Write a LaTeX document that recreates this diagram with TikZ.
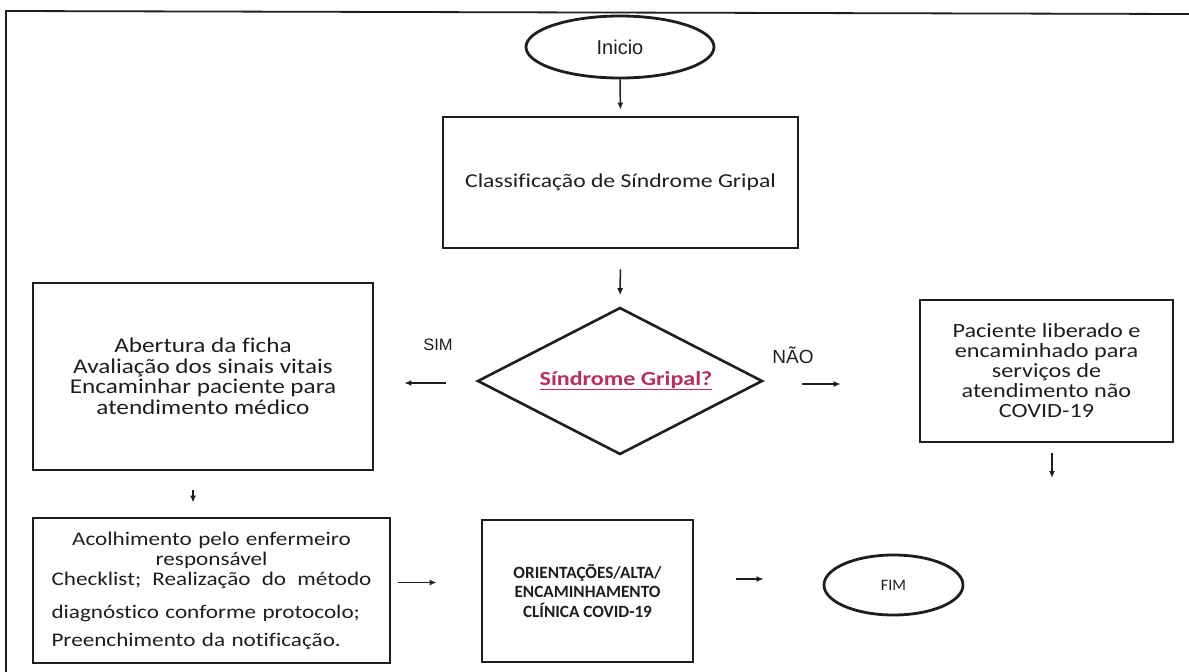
\documentclass[tikz,border=0pt]{standalone}
\usepackage{fontspec}
\setmainfont{Carlito}
\newfontfamily\wide[FakeStretch=1.2,Ligatures=NoCommon]{Carlito}
\newfontfamily\arialf{Liberation Sans}
\usetikzlibrary{shapes.geometric,arrows.meta}
\definecolor{ink}{RGB}{30,30,30}
\definecolor{pinkred}{RGB}{185,45,95}
\tikzset{
  boxnode/.style={draw=ink, line width=2.8pt, text=ink, inner sep=0pt},
  ovalnode/.style={draw=ink, ellipse, line width=2.8pt, text=ink, inner sep=0pt},
  arr/.style={draw=ink, line width=1.5pt, -{Latex[length=7pt,width=6pt]}},
  lbl/.style={text=ink, inner sep=0pt},
}
\begin{document}
\begin{tikzpicture}[x=1pt,y=-1pt]
\useasboundingbox (0,0) rectangle (1189,672);
\coordinate (fa) at (6,672);
\coordinate (fb) at (6,11);
\coordinate (fc) at (1189,14);
\draw[ink, line width=1.8pt] (fa) -- (fb) -- (fc);

\node[ovalnode, minimum width=188pt, minimum height=62pt, font=\arialf\fontsize{20}{22}\selectfont] (inicio) at (620,47) {Inicio};

\node[boxnode, minimum width=355pt, minimum height=131pt, font=\wide\fontsize{19.7}{22}\selectfont] (classif) at (620.5,182.5) {Classificação de Síndrome Gripal};

\node[draw=ink, line width=2.6pt, diamond, aspect=1.94, minimum width=285pt, minimum height=147pt, inner sep=0pt, text=pinkred, font=\wide\bfseries\fontsize{20}{21}\selectfont] (dia) at (620,381) {\raisebox{6pt}{\underline{Síndrome Gripal?}}\hspace*{-12pt}};

\node[boxnode, minimum width=340pt, minimum height=187pt, align=center, font=\wide\fontsize{21}{20.5}\selectfont] (lbox) at (203,376.5) {Abertura da ficha\\Avaliação dos sinais vitais\\Encaminhar paciente para\\atendimento médico};

\node[boxnode, minimum width=253pt, minimum height=142pt, align=center, font=\wide\fontsize{20.2}{20}\selectfont] (rbox) at (1046.5,371) {Paciente liberado e\\encaminhado para\\serviços de\\atendimento não\\COVID-19};

\node[boxnode, minimum width=357pt, minimum height=145pt, text width=320pt, align=left, font=\wide\fontsize{19.3}{20}\selectfont] (blbox) at (211.5,590.5) {\makebox[320pt]{Acolhimento pelo enfermeiro}\\\makebox[320pt]{responsável}\\Checklist;\hfill Realização\hfill do\hfill método\\[13pt]diagnóstico conforme protocolo;\\[8pt]Preenchimento da notificação.};

\node[boxnode, minimum width=211pt, minimum height=142pt, align=center, font=\bfseries\fontsize{17.2}{19.5}\selectfont] (mbox) at (587.5,591) {ORIENTAÇÕES/ALTA/\\ENCAMINHAMENTO\\CLÍNICA COVID-19};

\node[ovalnode, minimum width=139pt, minimum height=60pt, font=\fontsize{16}{18}\selectfont] (fim) at (893.5,585) {FIM};

\node[lbl, font=\arialf\fontsize{16.5}{18}\selectfont] (sim) at (438,345) {SIM};
\node[lbl, font=\arialf\fontsize{19}{21}\selectfont] (nao) at (793,355) {NÃO};

\coordinate (rend) at (1052,478);

\draw[arr, shorten >=6pt] (inicio.south) -- (classif.north);
\draw[arr, shorten <=20pt, shorten >=11pt] (classif.south) -- (dia.north);
\draw[arr, shorten <=30pt, shorten >=30pt] ([yshift=-2pt]dia.west) -- ([yshift=-2pt]dia.west -| lbox.east);
\draw[arr, shorten <=38pt, shorten >=78pt] ([yshift=-3pt]dia.east) -- ([yshift=-3pt]dia.east -| rbox.west);
\draw[arr, shorten <=10pt] (rbox.south -| rend) -- (rend);
\draw[arr, shorten <=19pt, shorten >=14pt] ([xshift=-10pt]lbox.south) -- ([xshift=-10pt]lbox.south |- blbox.north);
\draw[arr, shorten <=7pt, shorten >=44pt] ([yshift=8pt]blbox.east) -- ([yshift=8pt]blbox.east -| mbox.west);
\draw[arr, shorten <=42pt, shorten >=59pt] ([yshift=6pt]fim.west -| mbox.east) -- ([yshift=6pt]fim.west);
\end{tikzpicture}
\end{document}
